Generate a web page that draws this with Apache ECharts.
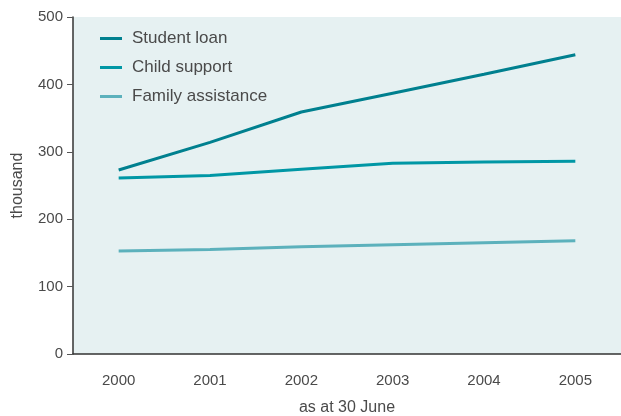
<!DOCTYPE html>
<html>
<head>
<meta charset="utf-8">
<script src="https://cdn.jsdelivr.net/npm/echarts@6/dist/echarts.min.js"></script>
<style>
  html, body { margin: 0; padding: 0; background: #ffffff; }
  #chart { width: 621px; height: 416px; }
</style>
</head>
<body>
<div id="chart"></div>
<script>
// Years on the x-axis (as at 30 June)
const years = ['2000', '2001', '2002', '2003', '2004', '2005'];

// Number of people (thousand)
const studentLoan = [273, 314, 359, 387, 415, 444];
const childSupport = [261, 265, 274, 283, 285, 286];
const familyAssistance = [153, 155, 159, 162, 165, 168];

const yTicks = [0, 100, 200, 300, 400, 500];

const textColor = '#4a4a4a';
const fontFamily = '"Liberation Sans", Arial, sans-serif';

const chart = echarts.init(document.getElementById('chart'));

function lineSeries(name, data, color) {
  return {
    name: name,
    type: 'line',
    data: data,
    symbol: 'none',
    lineStyle: { color: color, width: 3 },
    itemStyle: { color: color },
    z: 3
  };
}

chart.setOption({
  animation: false,
  textStyle: { fontFamily: fontFamily },
  grid: {
    left: 73, right: 0, top: 17, bottom: 62,
    containLabel: false,
    outerBoundsMode: 'none',
    show: true,
    backgroundColor: '#e6f1f2',
    borderWidth: 0
  },
  legend: {
    left: 95, top: 25,
    orient: 'vertical',
    itemGap: 12,
    itemWidth: 22,
    itemHeight: 18,
    icon: 'path://M0,7.5 L22,7.5 L22,10.5 L0,10.5 Z',
    textStyle: { color: textColor, fontSize: 17, fontFamily: fontFamily, padding: [0, 0, 0, 5] },
    data: ['Student loan', 'Child support', 'Family assistance']
  },
  xAxis: {
    type: 'category',
    data: years,
    boundaryGap: true,
    name: 'as at 30 June',
    nameLocation: 'middle',
    nameGap: 46,
    nameTextStyle: { color: textColor, fontSize: 16, fontFamily: fontFamily },
    axisLine: { lineStyle: { color: '#333333', width: 1.5 } },
    axisTick: { inside: true, length: 7, lineStyle: { color: '#555555' } },
    axisLabel: { color: textColor, fontSize: 15, margin: 19, fontFamily: fontFamily }
  },
  yAxis: {
    type: 'value',
    min: yTicks[0],
    max: yTicks[yTicks.length - 1],
    interval: 100,
    name: 'thousand',
    nameLocation: 'middle',
    nameGap: 47,
    nameRotate: 90,
    nameTextStyle: { color: textColor, fontSize: 16, fontFamily: fontFamily },
    axisLine: { show: true, lineStyle: { color: '#333333', width: 1.5 } },
    axisTick: { show: true, length: 6, lineStyle: { color: '#555555' } },
    splitLine: { show: false },
    axisLabel: { color: textColor, fontSize: 15, margin: 10, fontFamily: fontFamily }
  },
  series: [
    lineSeries('Student loan', studentLoan, '#00808f'),
    lineSeries('Child support', childSupport, '#0097a5'),
    lineSeries('Family assistance', familyAssistance, '#5cb1bc')
  ]
});
</script>
</body>
</html>
